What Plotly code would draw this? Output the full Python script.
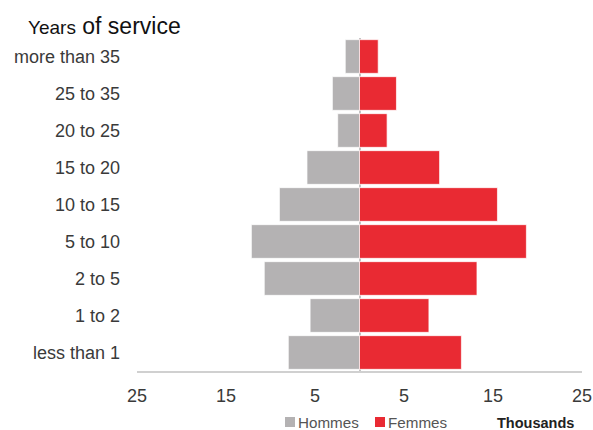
import plotly.graph_objects as go

categories = ["less than 1", "1 to 2", "2 to 5", "5 to 10", "10 to 15",
              "15 to 20", "20 to 25", "25 to 35", "more than 35"]
hommes = [8.0, 5.55, 10.7, 12.15, 9.0, 5.9, 2.45, 3.05, 1.6]
femmes = [11.45, 7.8, 13.2, 18.75, 15.5, 9.0, 3.1, 4.15, 2.1]
tick_vals = [-25, -15, -5, 5, 15, 25]
tick_text = ["25", "15", "5", "5", "15", "25"]
series_names = ["Hommes", "Femmes"]
series_colors = ["#b4b2b3", "#e92a33"]

FONT = "Liberation Sans, Arial, Helvetica, sans-serif"
W, H = 593, 430
L, R, T, B = 137, 11, 38, 430 - 371
PW, PH = W - L - R, H - T - B


def px_x(x):  # page pixel -> paper
    return (x - L) / PW


def px_y(y):
    return (H - B - y) / PH


fig = go.Figure()
fig.add_trace(go.Bar(
    y=categories, x=[-v for v in hommes], name=series_names[0], orientation="h",
    marker=dict(color=series_colors[0], line=dict(color="rgba(255,255,255,0.7)", width=1)),
))
fig.add_trace(go.Bar(
    y=categories, x=femmes, name=series_names[1], orientation="h",
    marker=dict(color=series_colors[1], line=dict(color="rgba(255,255,255,0.7)", width=1)),
))

# custom legend (compact square + label, as in the reference)
shapes = []
annotations = []
legend_pos = [285, 375]
for name, color, x0 in zip(series_names, series_colors, legend_pos):
    shapes.append(dict(type="rect", xref="paper", yref="paper",
                       x0=px_x(x0), x1=px_x(x0 + 10), y0=px_y(427), y1=px_y(417),
                       fillcolor=color, line=dict(width=0)))
    annotations.append(dict(text=name, xref="paper", yref="paper",
                            x=px_x(x0 + 11), xanchor="left", y=px_y(422), yanchor="middle",
                            showarrow=False,
                            font=dict(family=FONT, size=15.2, color="#555555")))

annotations.append(dict(text="<b>Thousands</b>", xref="paper", yref="paper",
                        x=px_x(576), xanchor="right", y=px_y(423), yanchor="middle",
                        showarrow=False, font=dict(family=FONT, size=14.5, color="#222222")))

fig.update_layout(
    width=W, height=H,
    margin=dict(l=L, r=R, t=T, b=B, autoexpand=False),
    paper_bgcolor="white", plot_bgcolor="white",
    barmode="relative", bargap=0.09,
    font=dict(family=FONT, size=18, color="#3a3a3a"),
    title=dict(text="<span style='font-size:19px'>Years</span> of service",
               x=28 / W, xanchor="left", y=1 - 26 / H, yanchor="middle",
               font=dict(family=FONT, size=23, color="#111111")),
    showlegend=False,
    xaxis=dict(range=[-25, 25], tickvals=tick_vals, ticktext=tick_text,
               showgrid=False, zeroline=True, zerolinecolor="#c4c4c4", zerolinewidth=1.5,
               showline=True, linecolor="#d0d0d0", linewidth=1.5,
               ticks="", tickfont=dict(size=18, color="#3a3a3a"), ticklabelstandoff=8,
               ticklabeloverflow="allow", fixedrange=True),
    yaxis=dict(categoryorder="array", categoryarray=categories,
               showgrid=False, zeroline=False, showline=False, ticks="",
               tickfont=dict(size=18, color="#3a3a3a"), ticklabelstandoff=16,
               fixedrange=True),
    shapes=shapes,
    annotations=annotations,
)

fig.write_html(
    "out.html",
    config={"displayModeBar": False},
    post_script="document.body.style.margin='0';document.body.style.overflow='hidden';",
)
